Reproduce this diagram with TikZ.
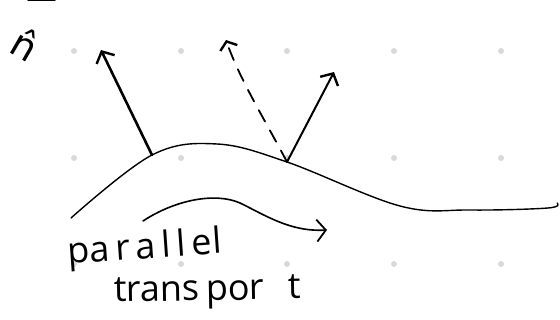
\documentclass[tikz,border=0pt]{standalone}
\usepackage{fontspec}
\setsansfont{Open Sans}
\newfontfamily\vecfont{DejaVu Sans}
\usetikzlibrary{arrows.meta}
\begin{document}
\begin{tikzpicture}[x=1pt, y=-1pt, line cap=round, line join=round,
  vec/.style={line width=2.6pt, -{Straight Barb[length=9pt, width=20pt, line width=2.4pt]}},
  hand/.style={font=\sffamily\fontsize{36}{38}\selectfont, inner sep=0pt, anchor=base west}]
  \useasboundingbox (0,0) rectangle (560,320);
  \foreach \x in {74,181,287,394,501} \foreach \y in {51,158,264} \fill[black!15] (\x,\y) circle (3pt);
  % surface and the two base points
  \coordinate (p) at (152,155); \coordinate (q) at (287,162);
  \draw[line width=1.4pt] plot[smooth, tension=0.6] coordinates {(71,218) (p) (217,144) (q) (400,206) (470,210) (548,208) (557,203)};
  % vectors
  \coordinate (pt) at (101,50); \coordinate (dt) at (226,40); \coordinate (qt) at (334,72);
  \draw[vec] (p) -- (pt);
  \draw[line width=1.8pt, dash pattern=on 13pt off 10pt, -{Straight Barb[length=7pt, width=18pt, line width=2.4pt]}] (q) .. controls (265,120) and (240,80) .. (dt);
  \draw[vec, line width=2pt] (q) -- (qt);
  % transport arrow
  \coordinate (ta) at (143,221); \coordinate (tb) at (327,230);
  \draw[line width=1.6pt, -{Straight Barb[length=9pt, width=22pt, line width=1.8pt]}] (ta) .. controls (175,200) and (215,192) .. (240,203) .. controls (265,215) and (290,232) .. (tb);
  % labels
  \draw[line width=3pt] (28,0) -- (55,0);
  \node[font=\vecfont\fontsize{38}{40}\selectfont, inner sep=0pt, rotate=-30] (nlab) at (26,44) {\^n};
  \node[hand, rotate=4] (par) at (68,264) {pa\,r\,a\,l\,l\,el};
  \node[hand, rotate=1] (tra) at (114,302) {trans\,por\,\,\,\,t};
\end{tikzpicture}
\end{document}
